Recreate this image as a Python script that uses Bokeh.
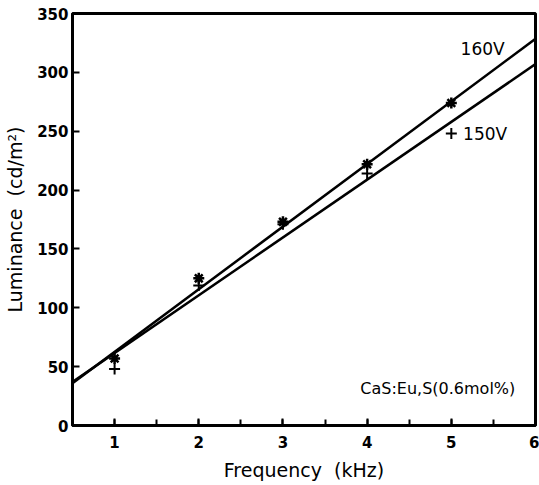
from bokeh.plotting import figure
from bokeh.models import ColumnDataSource, Range1d, SingleIntervalTicker, Label
from bokeh.embed import file_html
from bokeh.resources import INLINE

# ---- data ----
freq = [1, 2, 3, 4, 5]
lum_160 = [57, 125, 173, 222, 274]
lum_150 = [48, 119, 171, 214, 248]
fit_x = [0.5, 6.0]
fit_160 = [36, 328.5]
fit_150 = [37, 307]
x_ticks_major = 1
y_ticks_major = 50

FONT = "DejaVu Sans"

p = figure(width=539, height=485, output_backend="svg", toolbar_location=None,
           x_range=Range1d(0.5, 6), y_range=Range1d(0, 350),
           min_border_left=72, min_border_right=4, min_border_top=13,
           min_border_bottom=60)

p.xgrid.visible = False
p.ygrid.visible = False
p.outline_line_color = "black"
p.outline_line_width = 3
p.background_fill_color = "white"
p.border_fill_color = "white"

src = ColumnDataSource(dict(x=freq, y160=lum_160, y150=lum_150))

p.line(fit_x, fit_160, line_color="black", line_width=2.5)
p.line(fit_x, fit_150, line_color="black", line_width=2.5)
p.scatter("x", "y150", source=src, marker="cross", size=11, line_color="black", line_width=2)
p.scatter("x", "y160", source=src, marker="asterisk", size=11, line_color="black", line_width=2.5)

# axes
p.xaxis.ticker = SingleIntervalTicker(interval=x_ticks_major, num_minor_ticks=2)
p.yaxis.ticker = SingleIntervalTicker(interval=y_ticks_major, num_minor_ticks=0)
for ax in (p.xaxis[0], p.yaxis[0]):
    ax.axis_line_width = 3
    ax.axis_line_color = "black"
    ax.major_tick_in = 7
    ax.major_tick_out = 0
    ax.major_tick_line_width = 2
    ax.minor_tick_in = 6
    ax.minor_tick_out = 0
    ax.minor_tick_line_width = 2
    ax.major_label_text_font = FONT
    ax.major_label_text_font_style = "bold"
    ax.major_label_text_font_size = "15px"
    ax.major_label_text_color = "black"
    ax.axis_label_text_font = FONT
    ax.axis_label_text_font_style = "normal"
    ax.axis_label_text_font_size = "19px"
    ax.axis_label_text_color = "black"
p.yaxis.minor_tick_line_color = None
p.xaxis.axis_label = "Frequency\u00a0\u00a0(kHz)"
p.yaxis.axis_label = "Luminance\u00a0\u00a0(cd/m²)"
p.xaxis.major_label_standoff = 10
p.yaxis.major_label_standoff = 4
p.xaxis.axis_label_standoff = 8
p.yaxis.axis_label_standoff = 8

p.add_layout(Label(x=5.11, y=320, text="160V", text_font=FONT, text_font_size="17px",
                   text_baseline="middle", text_align="left", text_color="black"))
p.add_layout(Label(x=5.14, y=248, text="150V", text_font=FONT, text_font_size="17px",
                   text_baseline="middle", text_align="left", text_color="black"))
p.add_layout(Label(x=5.76, y=31.5, text="CaS:Eu,S(0.6mol%)", text_font=FONT,
                   text_font_size="16px", text_baseline="middle", text_align="right",
                   text_color="black"))

open("out.html", "w").write(file_html(p, INLINE))
